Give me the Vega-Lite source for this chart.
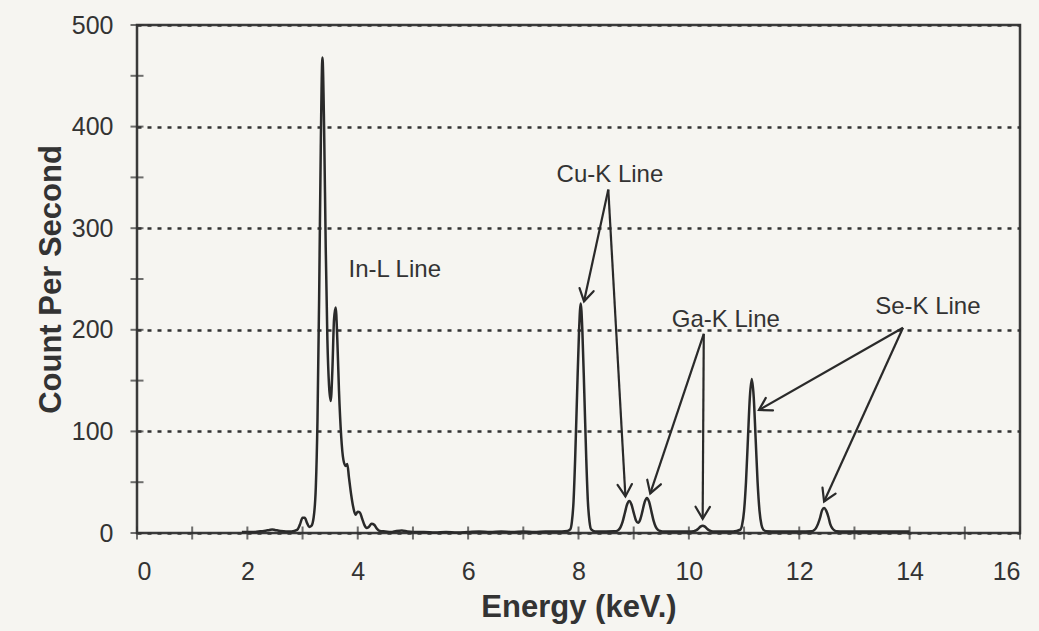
{
  "$schema": "https://vega.github.io/schema/vega-lite/v6.json",
  "width": 883,
  "height": 508,
  "autosize": {"type": "none"},
  "padding": {"left": 137, "top": 25, "right": 19, "bottom": 98},
  "background": "#f6f5f1",
  "config": {
    "view": {"stroke": "#3a3a3a", "strokeWidth": 2.5},
    "font": "Liberation Sans",
    "axisX": {
      "ticks": false, "domain": false, "grid": false,
      "labelFontSize": 25, "labelPadding": 26, "labelColor": "#333", "labelFont": "Liberation Sans",
      "titleFontSize": 31, "titleFontWeight": "bold", "titleColor": "#333", "titlePadding": 8, "titleFont": "Liberation Sans"
    },
    "axisY": {
      "ticks": false, "domain": false, "grid": true,
      "gridDash": [4, 6], "gridColor": "#333", "gridWidth": 2.5,
      "labelFontSize": 25, "labelPadding": 24, "labelColor": "#333", "labelFont": "Liberation Sans",
      "titleFontSize": 31, "titleFontWeight": "bold", "titleColor": "#333", "titlePadding": 4, "titleFont": "Liberation Sans"
    }
  },
  "datasets": {
    "spectrum": [
      {"energy": 1.9, "cps": 1}, {"energy": 2.0, "cps": 1}, {"energy": 2.1, "cps": 1}, {"energy": 2.2, "cps": 1.5},
      {"energy": 2.3, "cps": 2}, {"energy": 2.4, "cps": 3}, {"energy": 2.45, "cps": 3.5}, {"energy": 2.5, "cps": 3},
      {"energy": 2.6, "cps": 2}, {"energy": 2.7, "cps": 1.5}, {"energy": 2.8, "cps": 1.5}, {"energy": 2.9, "cps": 3},
      {"energy": 2.95, "cps": 8}, {"energy": 3.0, "cps": 15}, {"energy": 3.04, "cps": 15}, {"energy": 3.08, "cps": 10},
      {"energy": 3.12, "cps": 6}, {"energy": 3.16, "cps": 7}, {"energy": 3.2, "cps": 15}, {"energy": 3.24, "cps": 45},
      {"energy": 3.27, "cps": 110}, {"energy": 3.3, "cps": 230}, {"energy": 3.33, "cps": 380}, {"energy": 3.36, "cps": 468},
      {"energy": 3.39, "cps": 400}, {"energy": 3.42, "cps": 280}, {"energy": 3.45, "cps": 190}, {"energy": 3.48, "cps": 145},
      {"energy": 3.51, "cps": 130}, {"energy": 3.54, "cps": 160}, {"energy": 3.57, "cps": 210}, {"energy": 3.6, "cps": 222},
      {"energy": 3.63, "cps": 190}, {"energy": 3.66, "cps": 140}, {"energy": 3.7, "cps": 95}, {"energy": 3.74, "cps": 72},
      {"energy": 3.78, "cps": 66}, {"energy": 3.81, "cps": 68}, {"energy": 3.84, "cps": 55}, {"energy": 3.88, "cps": 38},
      {"energy": 3.92, "cps": 25}, {"energy": 3.96, "cps": 18}, {"energy": 4.0, "cps": 21}, {"energy": 4.04, "cps": 20},
      {"energy": 4.08, "cps": 14}, {"energy": 4.12, "cps": 8}, {"energy": 4.16, "cps": 5}, {"energy": 4.2, "cps": 6},
      {"energy": 4.25, "cps": 9}, {"energy": 4.3, "cps": 8}, {"energy": 4.35, "cps": 4}, {"energy": 4.4, "cps": 2},
      {"energy": 4.5, "cps": 1.5}, {"energy": 4.6, "cps": 1}, {"energy": 4.7, "cps": 2}, {"energy": 4.8, "cps": 2.5},
      {"energy": 4.9, "cps": 1.5}, {"energy": 5.0, "cps": 1}, {"energy": 5.2, "cps": 1}, {"energy": 5.4, "cps": 0.5},
      {"energy": 5.6, "cps": 1}, {"energy": 5.8, "cps": 0.5}, {"energy": 6.0, "cps": 1}, {"energy": 6.2, "cps": 1.5},
      {"energy": 6.4, "cps": 1}, {"energy": 6.6, "cps": 1.5}, {"energy": 6.8, "cps": 1}, {"energy": 7.0, "cps": 1.5},
      {"energy": 7.2, "cps": 1}, {"energy": 7.4, "cps": 1.5}, {"energy": 7.6, "cps": 1.5}, {"energy": 7.8, "cps": 2},
      {"energy": 7.85, "cps": 3.5}, {"energy": 7.88, "cps": 11}, {"energy": 7.91, "cps": 31}, {"energy": 7.94, "cps": 74},
      {"energy": 7.975, "cps": 138}, {"energy": 8.01, "cps": 199}, {"energy": 8.04, "cps": 226}, {"energy": 8.07, "cps": 199},
      {"energy": 8.105, "cps": 138}, {"energy": 8.14, "cps": 74}, {"energy": 8.17, "cps": 31}, {"energy": 8.2, "cps": 11},
      {"energy": 8.23, "cps": 3.5}, {"energy": 8.3, "cps": 1.5}, {"energy": 8.4, "cps": 1.5}, {"energy": 8.5, "cps": 1.5},
      {"energy": 8.64, "cps": 1.6}, {"energy": 8.68, "cps": 1.8}, {"energy": 8.72, "cps": 2.8}, {"energy": 8.76, "cps": 5.5},
      {"energy": 8.8, "cps": 11.2}, {"energy": 8.84, "cps": 19.7}, {"energy": 8.88, "cps": 28}, {"energy": 8.92, "cps": 31.5},
      {"energy": 8.96, "cps": 28.1}, {"energy": 9.0, "cps": 20.1}, {"energy": 9.04, "cps": 12.6}, {"energy": 9.08, "cps": 10},
      {"energy": 9.12, "cps": 13.5}, {"energy": 9.16, "cps": 21.8}, {"energy": 9.2, "cps": 30.7}, {"energy": 9.24, "cps": 34.5},
      {"energy": 9.28, "cps": 30.6}, {"energy": 9.32, "cps": 21.5}, {"energy": 9.36, "cps": 12.2}, {"energy": 9.4, "cps": 6},
      {"energy": 9.44, "cps": 3}, {"energy": 9.48, "cps": 1.9}, {"energy": 9.52, "cps": 1.6}, {"energy": 9.6, "cps": 1.5},
      {"energy": 9.8, "cps": 1.5}, {"energy": 10.0, "cps": 1.5}, {"energy": 10.09, "cps": 1.8}, {"energy": 10.13, "cps": 2.5},
      {"energy": 10.17, "cps": 4.2}, {"energy": 10.21, "cps": 6.3}, {"energy": 10.25, "cps": 7.2}, {"energy": 10.29, "cps": 6.3},
      {"energy": 10.33, "cps": 4.2}, {"energy": 10.37, "cps": 2.5}, {"energy": 10.41, "cps": 1.8}, {"energy": 10.45, "cps": 1.5},
      {"energy": 10.6, "cps": 1.5}, {"energy": 10.8, "cps": 1.5}, {"energy": 10.93, "cps": 3.2}, {"energy": 10.965, "cps": 8.1},
      {"energy": 11.0, "cps": 21.8}, {"energy": 11.035, "cps": 50.2}, {"energy": 11.07, "cps": 92.5}, {"energy": 11.105, "cps": 133.8},
      {"energy": 11.14, "cps": 151.5}, {"energy": 11.175, "cps": 133.8}, {"energy": 11.21, "cps": 92.5}, {"energy": 11.245, "cps": 50.2},
      {"energy": 11.28, "cps": 21.8}, {"energy": 11.315, "cps": 8.1}, {"energy": 11.35, "cps": 3.2}, {"energy": 11.4, "cps": 1.8},
      {"energy": 11.6, "cps": 1.5}, {"energy": 11.8, "cps": 1.5}, {"energy": 12.0, "cps": 1.5}, {"energy": 12.23, "cps": 1.75},
      {"energy": 12.26, "cps": 2.5}, {"energy": 12.3, "cps": 4.6}, {"energy": 12.34, "cps": 9}, {"energy": 12.38, "cps": 15.5},
      {"energy": 12.41, "cps": 21.8}, {"energy": 12.45, "cps": 24.5}, {"energy": 12.49, "cps": 21.8}, {"energy": 12.53, "cps": 15.5},
      {"energy": 12.56, "cps": 9}, {"energy": 12.6, "cps": 4.6}, {"energy": 12.64, "cps": 2.5}, {"energy": 12.68, "cps": 1.75},
      {"energy": 12.8, "cps": 1.5}, {"energy": 13.0, "cps": 1.5}, {"energy": 13.3, "cps": 1.5}, {"energy": 13.6, "cps": 1.5},
      {"energy": 14.0, "cps": 1.5}
    ],
    "labels": [
      {"label": "In-L Line", "x": 4.67, "y": 259},
      {"label": "Cu-K Line", "x": 8.57, "y": 352},
      {"label": "Ga-K Line", "x": 10.67, "y": 210},
      {"label": "Se-K Line", "x": 14.33, "y": 222}
    ],
    "arrows": [
      {"x1": 8.54, "y1": 338, "x2": 8.1, "y2": 228},
      {"x1": 8.54, "y1": 338, "x2": 8.85, "y2": 36},
      {"x1": 10.27, "y1": 196, "x2": 9.3, "y2": 39},
      {"x1": 10.27, "y1": 196, "x2": 10.25, "y2": 14},
      {"x1": 13.88, "y1": 202, "x2": 11.27, "y2": 121},
      {"x1": 13.88, "y1": 202, "x2": 12.45, "y2": 31}
    ],
    "xticks": [
      {"v": 0}, {"v": 1}, {"v": 2}, {"v": 3}, {"v": 4}, {"v": 5}, {"v": 6}, {"v": 7}, {"v": 8},
      {"v": 9}, {"v": 10}, {"v": 11}, {"v": 12}, {"v": 13}, {"v": 14}, {"v": 15}, {"v": 16}
    ],
    "yticks": [
      {"v": 0}, {"v": 50}, {"v": 100}, {"v": 150}, {"v": 200}, {"v": 250},
      {"v": 300}, {"v": 350}, {"v": 400}, {"v": 450}, {"v": 500}
    ]
  },
  "layer": [
    {
      "data": {"name": "spectrum"},
      "mark": {"type": "line", "color": "#2a2a2a", "strokeWidth": 2.5, "interpolate": "monotone"},
      "encoding": {
        "x": {
          "field": "energy", "type": "quantitative", "title": "Energy (keV.)",
          "scale": {"domain": [0, 16], "nice": false, "zero": false},
          "axis": {"values": [0, 2, 4, 6, 8, 10, 12, 14, 16]}
        },
        "y": {
          "field": "cps", "type": "quantitative", "title": "Count Per Second",
          "scale": {"domain": [0, 500], "nice": false},
          "axis": {"values": [0, 100, 200, 300, 400, 500]}
        }
      }
    },
    {
      "data": {"name": "xticks"},
      "mark": {"type": "tick", "orient": "vertical", "size": 13, "thickness": 2, "color": "#333"},
      "encoding": {
        "x": {"field": "v", "type": "quantitative", "title": "Energy (keV.)", "axis": {"values": [0, 2, 4, 6, 8, 10, 12, 14, 16]}},
        "y": {"datum": 0, "type": "quantitative", "title": "Count Per Second", "axis": {"values": [0, 100, 200, 300, 400, 500]}}
      }
    },
    {
      "data": {"name": "yticks"},
      "mark": {"type": "tick", "orient": "horizontal", "size": 13, "thickness": 2, "color": "#333"},
      "encoding": {
        "y": {"field": "v", "type": "quantitative", "title": "Count Per Second", "axis": {"values": [0, 100, 200, 300, 400, 500]}},
        "x": {"datum": 0, "type": "quantitative", "title": "Energy (keV.)", "axis": {"values": [0, 2, 4, 6, 8, 10, 12, 14, 16]}}
      }
    },
    {
      "data": {"name": "arrows"},
      "mark": {"type": "rule", "color": "#2a2a2a", "strokeWidth": 2.2},
      "encoding": {
        "x": {"field": "x1", "type": "quantitative", "title": "Energy (keV.)", "axis": {"values": [0, 2, 4, 6, 8, 10, 12, 14, 16]}},
        "y": {"field": "y1", "type": "quantitative", "title": "Count Per Second", "axis": {"values": [0, 100, 200, 300, 400, 500]}},
        "x2": {"field": "x2"},
        "y2": {"field": "y2"}
      }
    },
    {
      "data": {"name": "arrows"},
      "transform": [
        {"calculate": "atan2((datum.x2 - datum.x1) * 55.19, (datum.y2 - datum.y1) * 1.016) * 180 / PI", "as": "ang"}
      ],
      "mark": {"type": "point", "shape": "M -0.6 1 L 0 0 L 0.6 1", "filled": false, "size": 576, "strokeWidth": 2.2, "color": "#2a2a2a", "opacity": 1, "strokeCap": "round", "strokeJoin": "miter"},
      "encoding": {
        "x": {"field": "x2", "type": "quantitative", "title": "Energy (keV.)", "axis": {"values": [0, 2, 4, 6, 8, 10, 12, 14, 16]}},
        "y": {"field": "y2", "type": "quantitative", "title": "Count Per Second", "axis": {"values": [0, 100, 200, 300, 400, 500]}},
        "angle": {"field": "ang", "type": "quantitative", "scale": null}
      }
    },
    {
      "data": {"name": "labels"},
      "mark": {"type": "text", "fontSize": 24, "color": "#333", "align": "center", "baseline": "middle", "font": "Liberation Sans"},
      "encoding": {
        "x": {"field": "x", "type": "quantitative", "title": "Energy (keV.)", "axis": {"values": [0, 2, 4, 6, 8, 10, 12, 14, 16]}},
        "y": {"field": "y", "type": "quantitative", "title": "Count Per Second", "axis": {"values": [0, 100, 200, 300, 400, 500]}},
        "text": {"field": "label"}
      }
    }
  ]
}
